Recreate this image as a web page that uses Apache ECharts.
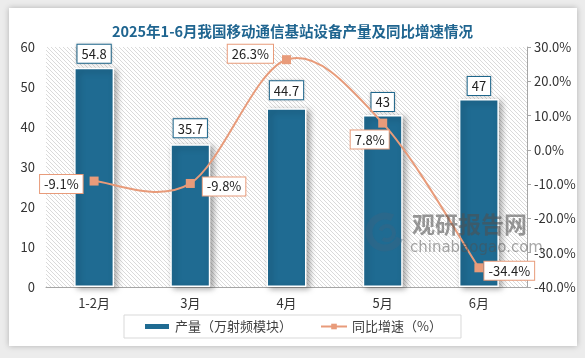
<!DOCTYPE html>
<html>
<head>
<meta charset="utf-8">
<script src="https://cdn.jsdelivr.net/npm/echarts@6/dist/echarts.min.js"></script>
<style>
html,body{margin:0;padding:0;background:#ececec;width:585px;height:358px;overflow:hidden;}
#card{position:absolute;left:9px;top:8px;width:568px;height:338px;background:#fff;box-shadow:0 0 6px rgba(0,0,0,0.25);}
#chart{position:absolute;left:0;top:0;width:585px;height:358px;}
</style>
</head>
<body>
<div id="card"></div>
<div id="chart"></div>
<script>
const categories = ['1-2月', '3月', '4月', '5月', '6月'];
const production = [54.8, 35.7, 44.7, 43, 47];
const growth = [-9.1, -9.8, 26.3, 7.8, -34.4];
const leftTicks = {min: 0, max: 60, interval: 10};
const rightTicks = {min: -40, max: 30, interval: 10};
const titleText = '2025年1-6月我国移动通信基站设备产量及同比增速情况';
const seriesNames = ['产量（万射频模块）', '同比增速（%）'];

const FONT = '"Noto Sans CJK SC", "Noto Sans", sans-serif';
const BAR = '#1f6b92';
const LINE = '#e89b7a';

function hatch() {
  const c = document.createElement('canvas');
  c.width = 4; c.height = 4;
  const g = c.getContext('2d');
  g.fillStyle = '#ffffff'; g.fillRect(0, 0, 4, 4);
  g.strokeStyle = '#dadada'; g.lineWidth = 1;
  g.beginPath();
  g.moveTo(0, 0); g.lineTo(4, 4);
  g.moveTo(-2, 2); g.lineTo(2, 6);
  g.moveTo(2, -2); g.lineTo(6, 2);
  g.stroke();
  return c;
}

const barLabelDist = [5, 7, 9, 4, 4];
const lineLabelCfg = [
  {position: 'left', distance: 7, offset: [0, 3]},
  {position: 'right', distance: 8, offset: [0, 3]},
  {position: 'left', distance: 9, offset: [0, -6]},
  {position: 'bottom', distance: 3, offset: [-13, 0]},
  {position: 'right', distance: 1, offset: [0, 3]}
];

// Smooth curve through the data points (drawn via the axis scales)
function renderCurve(params, api) {
  if (params.dataIndex !== 0) return null;
  const pts = growth.map((v, i) => api.coord([i, v]));
  const n = pts.length;
  const children = [];
  for (let i = 0; i < n - 1; i++) {
    const p0 = pts[Math.max(i - 1, 0)], p1 = pts[i], p2 = pts[i + 1], p3 = pts[Math.min(i + 2, n - 1)];
    children.push({
      type: 'bezierCurve',
      shape: {
        x1: p1[0], y1: p1[1], x2: p2[0], y2: p2[1],
        cpx1: p1[0] + (p2[0] - p0[0]) / 6, cpy1: p1[1] + (p2[1] - p0[1]) / 6,
        cpx2: p2[0] - (p3[0] - p1[0]) / 6, cpy2: p2[1] - (p3[1] - p1[1]) / 6
      },
      style: {fill: null, stroke: LINE, lineWidth: 2}
    });
  }
  return {type: 'group', children: children};
}

const chart = echarts.init(document.getElementById('chart'), null, {renderer: 'canvas'});
chart.setOption({
  animation: false,
  textStyle: {fontFamily: FONT},
  title: {
    text: titleText, left: 'center', top: 19,
    textStyle: {fontSize: 14.5, fontWeight: 'bold', color: '#1f6590', fontFamily: FONT}
  },
  grid: {
    left: 46, right: 58, top: 47, bottom: 71, show: true,
    backgroundColor: {image: hatch(), repeat: 'repeat'}, borderWidth: 0
  },
  legend: {
    left: 'center', top: 315, padding: [5, 19], itemGap: 28,
    itemWidth: 26, itemHeight: 7,
    borderColor: '#d9d9d9', borderWidth: 1, backgroundColor: '#fff',
    textStyle: {fontSize: 13, color: '#404040', fontFamily: FONT},
    data: [
      {name: seriesNames[0], icon: 'rect'},
      {name: seriesNames[1], lineStyle: {opacity: 1, color: LINE, width: 2}}
    ]
  },
  xAxis: {
    type: 'category', data: categories,
    axisLine: {lineStyle: {color: '#a6a6a6', width: 1}},
    axisTick: {show: false},
    axisLabel: {color: '#333', fontSize: 13, margin: 10, fontFamily: FONT}
  },
  yAxis: [
    {
      type: 'value', min: leftTicks.min, max: leftTicks.max, interval: leftTicks.interval,
      splitLine: {show: false}, axisLine: {show: false}, axisTick: {show: false},
      axisLabel: {color: '#333', fontSize: 13, margin: 11, fontFamily: FONT}
    },
    {
      type: 'value', position: 'right', min: rightTicks.min, max: rightTicks.max, interval: rightTicks.interval,
      splitLine: {show: false},
      axisLine: {show: true, lineStyle: {color: '#a6a6a6'}},
      axisTick: {show: true, length: 4, lineStyle: {color: '#a6a6a6'}},
      axisLabel: {color: '#333', fontSize: 13, margin: 7, fontFamily: FONT,
        formatter: v => v.toFixed(1) + '%'}
    }
  ],
  series: [
    {
      name: seriesNames[0], type: 'bar', barWidth: 40, yAxisIndex: 0,
      itemStyle: {color: BAR, borderColor: '#fff', borderWidth: 1.5,
        shadowColor: 'rgba(0,0,0,0.35)', shadowBlur: 6, shadowOffsetX: 3, shadowOffsetY: 2},
      label: {
        show: true, position: 'top', fontSize: 13, color: '#222', fontFamily: FONT,
        backgroundColor: '#fff', borderColor: BAR, borderWidth: 1, padding: [3, 4, 2, 4],
        shadowColor: 'rgba(0,0,0,0.2)', shadowBlur: 3
      },
      data: production.map((v, i) => ({value: v, label: {distance: barLabelDist[i]}}))
    },
    {
      name: 'curve', type: 'custom', yAxisIndex: 1, z: 4, silent: true,
      renderItem: renderCurve,
      encode: {x: 0, y: 1},
      data: growth.map((v, i) => [i, v])
    },
    {
      name: seriesNames[1], type: 'line', yAxisIndex: 1, z: 5,
      symbol: 'rect', symbolSize: 9,
      lineStyle: {color: LINE, width: 2, opacity: 0},
      itemStyle: {color: LINE},
      label: {
        show: true, fontSize: 13, color: '#222', fontFamily: FONT,
        backgroundColor: '#fff', borderColor: LINE, borderWidth: 1, padding: [3, 4, 2, 4],
        formatter: p => p.value + '%'
      },
      data: growth.map((v, i) => ({value: v, label: lineLabelCfg[i]}))
    }
  ],
  graphic: [
    {type: 'arc', z: 100, shape: {cx: 385, cy: 232, r: 16, startAngle: 0.4, endAngle: 5.2},
      style: {stroke: 'rgba(60,100,130,0.4)', lineWidth: 7, fill: null}},
    {type: 'arc', z: 100, shape: {cx: 387, cy: 233, r: 7, startAngle: 3.5, endAngle: 8.5},
      style: {stroke: 'rgba(60,100,130,0.4)', lineWidth: 4, fill: null}},
    {type: 'text', z: 100, left: 412, top: 213,
      style: {text: '观研报告网', fontSize: 23, fontWeight: 'bold', fill: 'rgba(80,80,80,0.58)', fontFamily: FONT}},
    {type: 'text', z: 100, left: 410, top: 241,
      style: {text: 'chinabaogao.com', fontSize: 15, fill: 'rgba(80,80,80,0.5)', fontFamily: '"DejaVu Sans", sans-serif'}}
  ]
});
</script>
</body>
</html>
